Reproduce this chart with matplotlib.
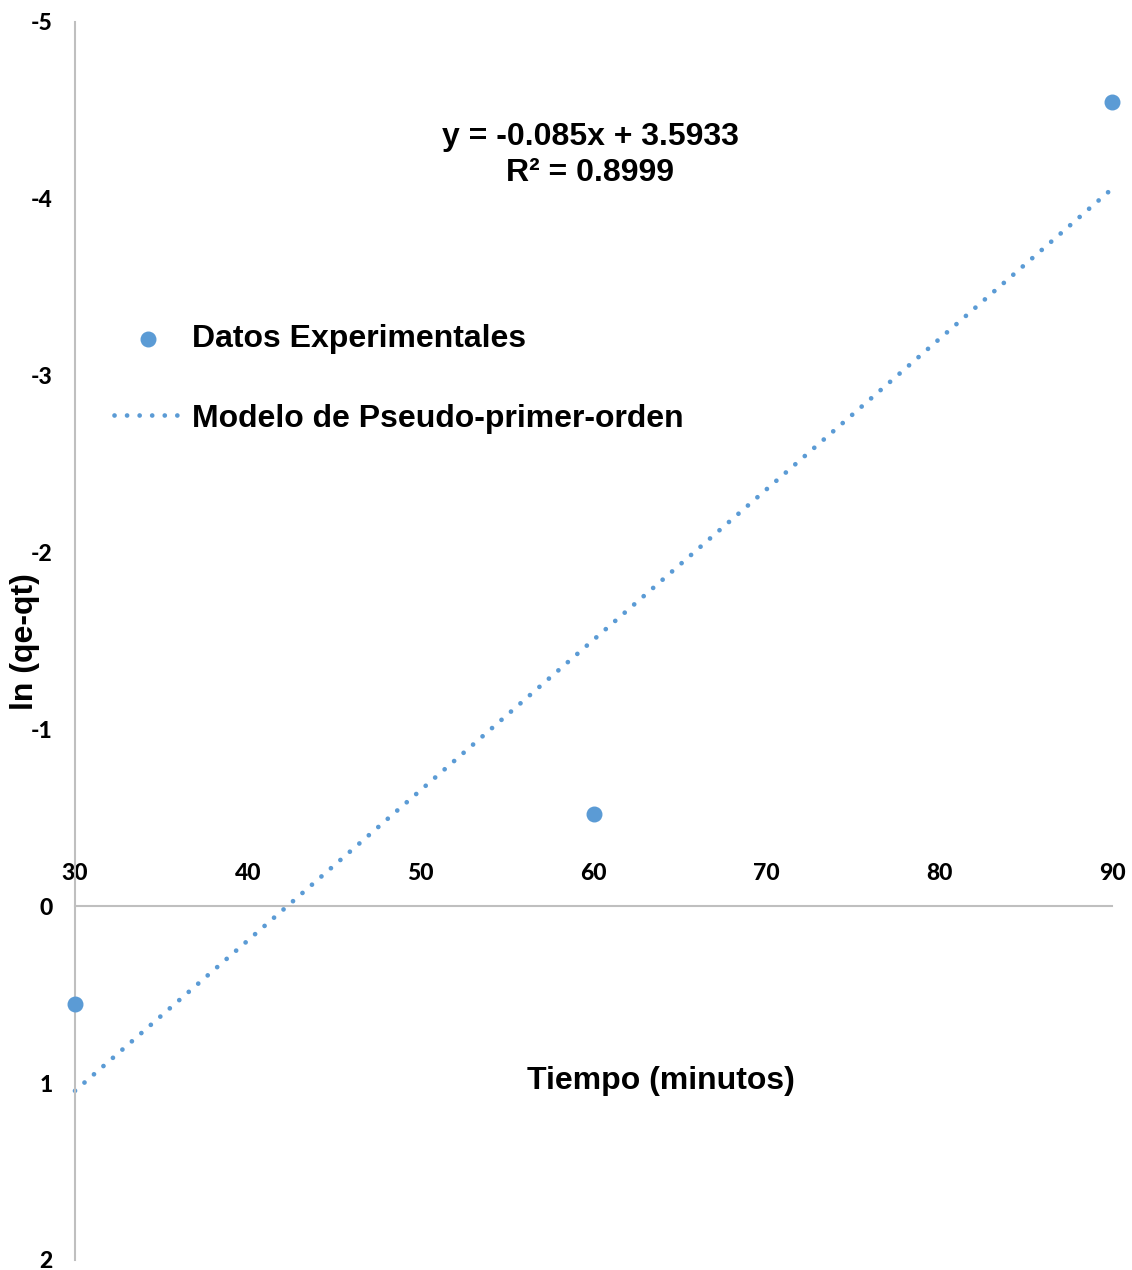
import numpy as np
import matplotlib
matplotlib.use('Agg')
import matplotlib.pyplot as plt

plt.rcParams['axes.unicode_minus'] = False

# Pseudo-first-order kinetics: ln(qe - qt) against time
tiempo = [30, 60, 90]
ln_qe_qt = [0.55, -0.52, -4.55]

# Linear trendline coefficients
pendiente = -0.085
intercepto = 3.5933
r2 = 0.8999

x_ticks = [30, 40, 50, 60, 70, 80, 90]
y_ticks = [-5, -4, -3, -2, -1, 0, 1, 2]

azul = '#5B9BD5'
gris = '#BFBFBF'
fuente_ticks = 'Lato'
fuente_texto = 'Liberation Sans'

W, H = 1132, 1270
fig = plt.figure(figsize=(W / 100, H / 100), dpi=100)
ax = fig.add_axes([75 / W, 1 - 1260 / H, (1112 - 75) / W, (1260 - 22) / H])

# Trendline over the data range
x_fit = np.array([min(tiempo), max(tiempo)])
y_fit = pendiente * x_fit + intercepto

ax.scatter(tiempo, ln_qe_qt, s=110, color=azul, zorder=3,
           label='Datos Experimentales', clip_on=False)
ax.plot(x_fit, y_fit, color=azul, lw=3.4, linestyle=(0, (0.01, 2.65)),
        dash_capstyle='round', solid_capstyle='round',
        label='Modelo de Pseudo-primer-orden', clip_on=False)

ax.set_xlim(30, 90)
ax.set_ylim(2, -5)
ax.set_xticks(x_ticks)
ax.set_yticks(y_ticks)

for s in ['top', 'right']:
    ax.spines[s].set_visible(False)
ax.spines['bottom'].set_position(('data', 0))
for s in ['left', 'bottom']:
    ax.spines[s].set_color(gris)
    ax.spines[s].set_linewidth(1.5)

ax.tick_params(axis='x', length=0, pad=-31)
ax.tick_params(axis='y', length=0, pad=16)
for lab in ax.get_xticklabels() + ax.get_yticklabels():
    lab.set_fontfamily(fuente_ticks)
    lab.set_fontweight('black')
    lab.set_fontsize(16.5)

leg = ax.legend(loc='upper left', bbox_to_anchor=(114 / W, 1 - 324 / H),
                bbox_transform=fig.transFigure, frameon=False,
                prop={'family': fuente_texto, 'weight': 'bold', 'size': 23},
                borderpad=0, borderaxespad=0, handlelength=2.1,
                handletextpad=0.35, labelspacing=1.55)

eq = f'y = {pendiente}x + {intercepto}\nR² = {r2}'
fig.text(590 / W, 1 - 155 / H, eq, ha='center', va='center',
         fontfamily=fuente_texto, fontweight='bold', fontsize=23,
         linespacing=1.25)

fig.text(661 / W, 1 - 1081 / H, 'Tiempo (minutos)', ha='center', va='center',
         fontfamily=fuente_texto, fontweight='bold', fontsize=23)
fig.text(25 / W, 1 - 642 / H, 'ln (qe-qt)', ha='center', va='center',
         rotation=90, fontfamily=fuente_texto, fontweight='bold', fontsize=23)

fig.savefig('out.png', dpi=100)
